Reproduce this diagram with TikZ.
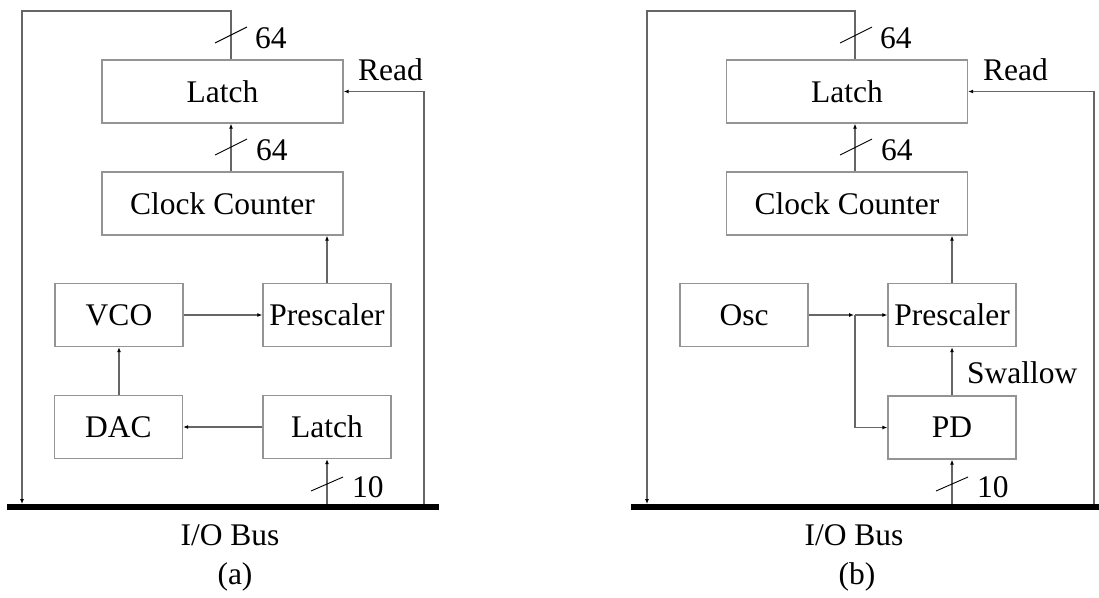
\documentclass[tikz,border=0pt]{standalone}
\usepackage{fontspec}
\setmainfont{Liberation Serif}
\usetikzlibrary{arrows.meta}
\begin{document}
\begin{tikzpicture}[x=1pt,y=-1pt,
  font=\fontsize{31.5}{36}\selectfont,
  box/.style={draw=black!42, line width=1.3pt, inner sep=0pt, minimum height=63pt},
  wide/.style={box, minimum width=241pt},
  small/.style={box, minimum width=128pt},
  conn/.style={draw=black!60, line width=1.6pt},
  arr/.style={conn, -{Latex[length=5pt,width=4pt,color=black]}},
  bus/.style={line width=6pt, black},
  slash/.style={line width=0.9pt, black},
  lbl/.style={inner sep=0pt, anchor=base west},
  captext/.style={inner sep=0pt, anchor=base}]
\useasboundingbox (0,0) rectangle (1099,597);

% ---------------- panel (a) ----------------
\node[wide]  (latchA) at (222.5,91.5) {Latch};
\node[wide]  (ccA)    at (222.5,203.5) {Clock Counter};
\node[small] (vco)    at (119,315) {VCO};
\node[small] (presA)  at (327,315) {Prescaler};
\node[small] (dac)    at (118.5,427) {DAC};
\node[small] (latchB) at (327,427) {Latch};

\coordinate (busAL) at (7,507);
\coordinate (busAR) at (439,507);
\draw[bus] (busAL) -- (busAR);
\coordinate (loopTA) at (22,11);
\coordinate (loopBA) at (22,504);
\coordinate (readBA) at (424,504);
\coordinate (inBA)   at (327,504);

\draw[arr] ([xshift=8.5pt]latchA.north) |- (loopTA) -- (loopBA);
\draw[arr] (readBA) |- (latchA.east);
\draw[arr] ([xshift=8.5pt]ccA.north) -- ([xshift=8.5pt]latchA.south);
\draw[arr] (presA.north) -- (presA.north |- ccA.south);
\draw[arr] (vco.east) -- (presA.west);
\draw[arr] (dac.north -| vco.south) -- (vco.south);
\draw[arr] (latchB.west) -- (dac.east);
\draw[arr] (inBA) -- (latchB.south);

\draw[slash] (215,43) -- (247,27);
\draw[slash] (215,155) -- (247,139);
\draw[slash] (311,491) -- (343,477);
\node[lbl] (n64a) at (255,48) {64};
\node[lbl] (n64b) at (256,160) {64};
\node[lbl] (n10a) at (352,497) {10};
\node[lbl] (readA) at (358,80) {Read};
\node[captext] (busA) at (230,545) {I/O Bus};
\node[captext] (capA) at (235,584) {(a)};

% ---------------- panel (b) ----------------
\node[wide]  (latchC) at (847,91.5) {Latch};
\node[wide]  (ccB)    at (847,203.5) {Clock Counter};
\node[small] (osc)    at (744,315) {Osc};
\node[small] (presB)  at (952,315) {Prescaler};
\node[small] (pd)     at (952,427.5) {PD};

\coordinate (busBL) at (631,507);
\coordinate (busBR) at (1099,507);
\draw[bus] (busBL) -- (busBR);
\coordinate (loopTB) at (647,11);
\coordinate (loopBB) at (647,504);
\coordinate (readBB) at (1094,504);
\coordinate (inBB)   at (952,504);
\coordinate (junc)   at (855,315);

\draw[arr] ([xshift=8pt]latchC.north) |- (loopTB) -- (loopBB);
\draw[arr] (readBB) |- (latchC.east);
\draw[arr] ([xshift=8pt]ccB.north) -- ([xshift=8pt]latchC.south);
\draw[arr] (presB.north) -- (presB.north |- ccB.south);
\draw[arr] (osc.east) -- ([xshift=-1pt]junc);
\draw[arr] (junc) -- (presB.west);
\draw[arr] (junc) |- (pd.west);
\draw[arr] (pd.north) -- (presB.south);
\draw[arr] (inBB) -- (pd.south);

\draw[slash] (840,43) -- (872,27);
\draw[slash] (840,155) -- (872,139);
\draw[slash] (936,491) -- (968,477);
\node[lbl] (n64c) at (880,48) {64};
\node[lbl] (n64d) at (881,160) {64};
\node[lbl] (n10b) at (977,497) {10};
\node[lbl] (readB) at (983,80) {Read};
\node[lbl] (swallow) at (967,383) {Swallow};
\node[captext] (busB) at (854,545) {I/O Bus};
\node[captext] (capB) at (857,584) {(b)};
\end{tikzpicture}
\end{document}
